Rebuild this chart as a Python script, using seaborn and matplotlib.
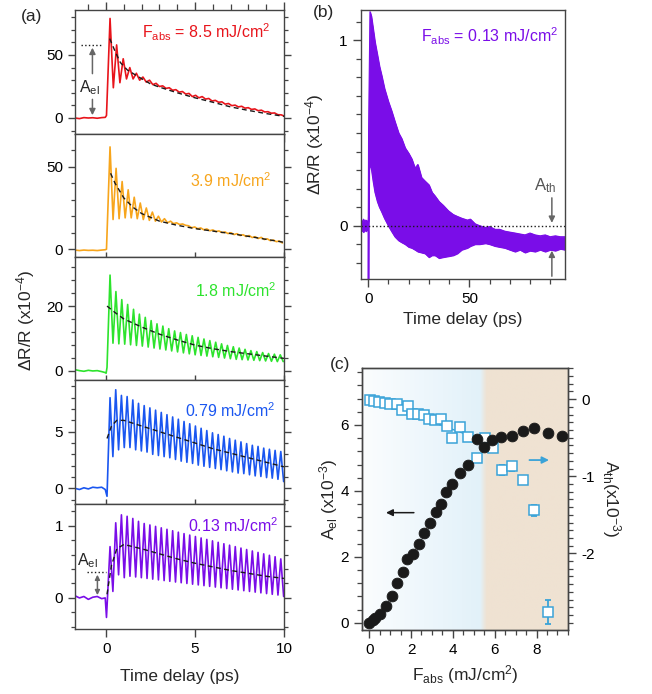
import numpy as np
import pandas as pd
import matplotlib
matplotlib.use('Agg')
import matplotlib.pyplot as plt
import seaborn as sns
from matplotlib.ticker import MultipleLocator
from matplotlib.colors import LinearSegmentedColormap

# 一、数据
# (a) ΔR/R (x10^-4)：零点前基线 + 上升沿 + 振荡的峰/谷值
t_pre = [-1.75, -1.5, -1.25, -1.0, -0.75, -0.5, -0.25, -0.05]

pre_85 = [0, -0.5, 0.3, 0, 0.2, -0.2, 0.3, 0.5]
edge_t_85, edge_v_85 = [0.02], [2]
peak_85 = [79, 58, 47, 40, 35.5, 32.5, 30, 27.5, 25.5, 24, 22.5, 21, 19.5, 18, 17,
           15.5, 14, 12.8, 11.5, 10.2, 9.3, 8.2, 7.2, 6.2, 5, 4, 2.5]
trough_85 = [24, 28, 31, 31, 30, 28.5, 26.5, 25, 23.5, 22, 20.5, 19, 17, 16, 15,
             13.5, 12.5, 11, 9.8, 8.8, 7.8, 6.8, 5.8, 4.8, 3.8, 2.6, 1.5]
fit_t_85 = [0.2, 0.5, 0.8, 1.2, 1.9, 2.5, 3, 4, 5, 6, 7, 8, 9, 10]
fit_v_85 = [63, 53, 44, 38, 32, 27, 24.5, 20, 16, 12.5, 8.8, 6, 3.5, 1.3]

pre_39 = [-0.5, -0.8, -0.5, -0.7, -0.6, -0.8, -0.5, -0.3]
edge_t_39, edge_v_39 = [0.02], [0]
peak_39 = [62, 49, 41, 36, 31.5, 28, 25, 22.5, 20, 18.5, 17, 16, 15.3, 14.2, 13.5,
           12.9, 12.3, 11.7, 11.1, 10.5, 10, 9.4, 8.8, 8.3, 7.6, 7.2, 6.3, 5.6, 5]
trough_39 = [18, 18.5, 19, 19, 18.5, 18, 17.5, 17, 16.5, 16, 15.5, 15, 14.5, 13, 12.4,
             11.8, 11.2, 10.7, 10.1, 9.5, 8.9, 8.3, 7.7, 7.1, 6.5, 5.9, 5.2, 4.6, 3.8]
fit_t_39 = [0.25, 0.5, 1, 1.5, 2, 3, 4, 5, 6, 7, 8, 9, 10]
fit_v_39 = [46, 40, 31, 25.5, 21.6, 17, 14.5, 12.5, 11, 9.5, 7.8, 6, 4.2]

pre_18 = [0.3, 0, -0.2, 0.1, -0.1, 0, -0.3, -0.6]
edge_t_18, edge_v_18 = [0.0, 0.05], [-0.8, 1]
peak_18 = [29.6, 24.5, 22, 20.5, 19, 17.5, 16.5, 15.5, 14.5, 13.8, 13, 12.3, 11.8, 11.2, 10.8,
           10.3, 9.8, 9.3, 8.8, 8.3, 7.8, 7.4, 7, 6.6, 6.2, 5.9, 5.6, 5.3, 5.1, 4.9]
trough_18 = [8.5, 8.3, 8.2, 8, 7.8, 7.6, 7.3, 7, 6.7, 6.4, 6.1, 5.8, 5.5, 5.2, 4.9,
             4.7, 4.5, 4.3, 4.1, 3.9, 3.7, 3.5, 3.4, 3.3, 3.2, 3.1, 3, 2.9, 2.8, 2.8]
fit_t_18 = [0.05, 0.5, 1, 2, 3, 4, 5, 6, 7, 8, 9, 10]
fit_v_18 = [20, 18, 16, 13.5, 11.3, 9.5, 7.9, 6.8, 5.9, 5.2, 4.5, 3.8]

pre_079 = [0, -0.1, 0.05, -0.05, 0.1, 0.05, 0.1, -0.1]
edge_t_079, edge_v_079 = [0.05], [-0.7]
peak_079 = [8.0, 8.7, 8.2, 8.1, 7.8, 7.5, 7.3, 7.1, 6.9, 6.7, 6.5, 6.3, 6.1, 5.9, 5.7, 5.5,
            5.3, 5.1, 4.9, 4.75, 4.6, 4.4, 4.25, 4.1, 3.95, 3.8, 3.7, 3.55, 3.45, 3.35, 3.25]
trough_079 = [2.8, 3.4, 3.6, 3.6, 3.4, 3.3, 3.2, 3.0, 2.9, 2.8, 2.7, 2.55, 2.4, 2.3, 2.2, 2.05,
              1.95, 1.85, 1.75, 1.65, 1.55, 1.45, 1.35, 1.3, 1.2, 1.1, 1.05, 0.95, 0.9, 0.8, 0.6]
fit_t_079 = [0.05, 0.3, 0.6, 1, 2, 3, 4, 5, 6, 7, 8, 9, 10]
fit_v_079 = [4.4, 5.5, 6.0, 6.0, 5.5, 5.0, 4.5, 4.0, 3.5, 3.1, 2.7, 2.3, 1.9]

pre_013 = [0.03, 0, 0.02, -0.02, 0.01, 0.02, -0.01, 0.0]
edge_t_013, edge_v_013 = [0.02], [-0.27]
peak_013 = [0.71, 1.04, 1.15, 1.13, 1.10, 1.06, 1.03, 1.01, 0.99, 0.97, 0.95, 0.93, 0.91, 0.89, 0.87, 0.85,
            0.83, 0.81, 0.79, 0.77, 0.75, 0.73, 0.71, 0.69, 0.67, 0.65, 0.63, 0.61, 0.59, 0.57, 0.54]
trough_013 = [0.09, 0.32, 0.28, 0.30, 0.29, 0.28, 0.27, 0.26, 0.25, 0.24, 0.23, 0.22, 0.21, 0.20, 0.19, 0.18,
              0.17, 0.16, 0.15, 0.14, 0.13, 0.12, 0.11, 0.10, 0.09, 0.08, 0.07, 0.06, 0.05, 0.04, 0.02]
fit_t_013 = [0.05, 0.3, 0.6, 1, 2, 3, 4, 5, 6, 7, 8, 9, 10]
fit_v_013 = [0.05, 0.45, 0.68, 0.74, 0.68, 0.61, 0.54, 0.48, 0.43, 0.38, 0.34, 0.30, 0.27]

# 振荡第一个峰的时间和半周期 (ps)
osc_t0 = [0.22, 0.22, 0.22, 0.22, 0.22]
osc_half = [0.185, 0.17, 0.165, 0.16, 0.16]

labels_a = ['F$_{abs}$ = 8.5 mJ/cm$^2$', '3.9 mJ/cm$^2$', '1.8 mJ/cm$^2$',
            '0.79 mJ/cm$^2$', '0.13 mJ/cm$^2$']

# (b) 0.13 mJ/cm2 长时间尺度：振荡带的上下包络
b_t = [-3.6, -3.0, -2.4, -1.8, -1.2, -0.6, -0.1, 0.0, 0.15, 0.4, 0.84, 1.5, 2.4, 3.3, 4.5,
       5.5, 6.6, 8.0, 9.9, 11.5, 13.2, 15, 16.5, 18.2, 20, 21.5, 23.1, 24.5, 26.3, 28.1,
       30, 31.5, 33, 35, 37, 39.6, 42, 44, 46.2, 49, 50.5, 52.8, 55, 58, 60,
       62.7, 65, 67.5, 70, 72.6, 75, 77.5, 80, 82.5, 85, 87.5, 90, 92.5, 95, 97.3]
b_hi = [0.03, 0.02, 0.035, 0.02, 0.03, 0.025, 0.02, 0.05, 0.5, 0.75, 1.155, 1.13, 1.06, 0.99, 0.92,
        0.86, 0.81, 0.74, 0.67, 0.62, 0.56, 0.5, 0.47, 0.42, 0.39, 0.36, 0.31, 0.33, 0.26, 0.24,
        0.22, 0.18, 0.16, 0.13, 0.11, 0.08, 0.06, 0.05, 0.04, 0.03, 0.035, 0.01, 0.0, -0.01, -0.005,
        -0.02, -0.02, -0.03, -0.035, -0.04, -0.045, -0.05, -0.04, -0.05, -0.055, -0.05, -0.06, -0.055, -0.06, -0.06]
b_lo = [-0.03, -0.025, -0.035, -0.02, -0.03, -0.02, -0.03, -0.29, -0.05, 0.3, 0.33, 0.31, 0.24, 0.18, 0.13,
        0.1, 0.075, 0.04, 0.0, -0.03, -0.06, -0.08, -0.09, -0.10, -0.115, -0.12, -0.13, -0.14, -0.145, -0.15,
        -0.17, -0.16, -0.16, -0.175, -0.17, -0.165, -0.16, -0.15, -0.13, -0.12, -0.11, -0.10, -0.10, -0.095, -0.1,
        -0.11, -0.115, -0.12, -0.13, -0.14, -0.13, -0.145, -0.135, -0.14, -0.13, -0.14, -0.13, -0.135, -0.125, -0.13]

# (c) A_el 与 A_th 随通量变化
F_el = [0, 0.19, 0.3, 0.51, 0.78, 1.07, 1.31, 1.6, 1.82, 2.1, 2.38, 2.63, 2.9, 3.18, 3.43, 3.65,
        3.94, 4.34, 4.74, 5.14, 5.5, 5.89, 6.3, 6.84, 7.37, 7.9, 8.53, 9.2]
A_el = [0, 0.08, 0.13, 0.28, 0.51, 0.81, 1.2, 1.53, 1.92, 2.08, 2.39, 2.73, 3.03, 3.37, 3.6, 3.98,
        4.21, 4.53, 4.79, 5.58, 5.34, 5.54, 5.65, 5.67, 5.82, 5.9, 5.77, 5.68]
F_th = [0.03, 0.22, 0.46, 0.75, 0.99, 1.31, 1.58, 1.84, 2.06, 2.35, 2.63, 2.86, 3.14, 3.43, 3.7,
        3.94, 4.34, 4.74, 5.14, 5.54, 5.93, 6.33, 6.84, 7.37, 7.9, 8.54]
A_th = [-0.01, -0.02, -0.035, -0.05, -0.065, -0.065, -0.14, -0.09, -0.19, -0.195, -0.21, -0.26, -0.27,
        -0.26, -0.35, -0.51, -0.36, -0.49, -0.76, -0.5, -0.63, -0.92, -0.87, -1.05, -1.44, -2.76]
A_th_err = [0.07, 0.06, 0.05, 0.07, 0.16]   # 最后五个点的误差
fit_F_th = [0, 6.0]
fit_A_th = [0, -0.59]

# 二、画图设置
sns.set_theme(style='ticks', rc={'axes.linewidth': 1.0, 'xtick.major.width': 1.0,
                                 'ytick.major.width': 1.0, 'xtick.minor.width': 0.9,
                                 'ytick.minor.width': 0.9})
plt.rcParams['font.family'] = ['Liberation Sans', 'DejaVu Sans']
plt.rcParams['mathtext.fontset'] = 'custom'
plt.rcParams['mathtext.rm'] = 'Liberation Sans'
plt.rcParams['mathtext.default'] = 'regular'
plt.rcParams['axes.unicode_minus'] = False
plt.rcParams['font.size'] = 11.5
plt.rcParams['xtick.labelsize'] = 11
plt.rcParams['ytick.labelsize'] = 11

lab_fs = 12.5
spine_c = '#444444'
arrow_c = '#666666'
colors_a = ['#e8141b', '#f7a51c', '#2de32d', '#1a56f0', '#7a0de8']
sq_c = '#3aa3d8'

W, H = 652, 694
fig = plt.figure(figsize=(W / 100, H / 100), dpi=100)


def add_ax(l, t, r, b):
    return fig.add_axes([l / W, 1 - b / H, (r - l) / W, (b - t) / H])


def style_spines(ax):
    for s in ax.spines.values():
        s.set_color(spine_c)
        s.set_linewidth(1.0)
    ax.tick_params(colors=spine_c, labelcolor='black', which='both')


def build_trace(pre, edge_t, edge_v, peaks, troughs, t0, half):
    n = len(peaks) + len(troughs)
    t_osc = t0 + half * np.arange(n)
    v_osc = np.empty(n)
    v_osc[0::2] = peaks
    v_osc[1::2] = troughs
    t = np.concatenate([t_pre, edge_t, t_osc])
    v = np.concatenate([pre, edge_v, v_osc])
    return pd.DataFrame({'t': t, 'v': v})


# 三、(a) 五个通量的曲线
rows_a = [(10, 134), (134, 257), (257, 380), (380, 504), (504, 629)]
traces = [build_trace(pre_85, edge_t_85, edge_v_85, peak_85, trough_85, osc_t0[0], osc_half[0]),
          build_trace(pre_39, edge_t_39, edge_v_39, peak_39, trough_39, osc_t0[1], osc_half[1]),
          build_trace(pre_18, edge_t_18, edge_v_18, peak_18, trough_18, osc_t0[2], osc_half[2]),
          build_trace(pre_079, edge_t_079, edge_v_079, peak_079, trough_079, osc_t0[3], osc_half[3]),
          build_trace(pre_013, edge_t_013, edge_v_013, peak_013, trough_013, osc_t0[4], osc_half[4])]
fits = [(fit_t_85, fit_v_85), (fit_t_39, fit_v_39), (fit_t_18, fit_v_18),
        (fit_t_079, fit_v_079), (fit_t_013, fit_v_013)]
ylims = [(-12.7, 85.7), (-4.7, 69.8), (-2.9, 35.2), (-1.38, 9.56), (-0.43, 1.30)]
ymajor = [50, 50, 20, 5, 1]
yminor = [10, 10, 4, 1, 0.2]
lab_pos = [(0.933, 0.774), (0.941, 0.569), (0.965, 0.672), (0.96, 0.704), (0.973, 0.778)]

axes_a = []
for i, (top, bot) in enumerate(rows_a):
    ax = add_ax(75, top, 284, bot)
    axes_a.append(ax)
    sns.lineplot(data=traces[i], x='t', y='v', ax=ax, color=colors_a[i], lw=1.2,
                 sort=False, estimator=None)
    sns.lineplot(x=fits[i][0], y=fits[i][1], ax=ax, color='k', lw=1.0,
                 linestyle=(0, (3.5, 2.5)), sort=False, estimator=None)
    ax.set_xlim(-1.75, 10)
    ax.set_ylim(*ylims[i])
    ax.set_xlabel('')
    ax.set_ylabel('')
    ax.yaxis.set_major_locator(MultipleLocator(ymajor[i]))
    ax.yaxis.set_minor_locator(MultipleLocator(yminor[i]))
    ax.xaxis.set_major_locator(MultipleLocator(5))
    style_spines(ax)
    ax.tick_params(axis='y', which='both', direction='out', left=True, right=True, labelright=False)
    ax.tick_params(axis='y', which='major', length=5)
    ax.tick_params(axis='y', which='minor', length=3)
    ax.text(lab_pos[i][0], lab_pos[i][1], labels_a[i], transform=ax.transAxes, ha='right',
            va='baseline', color=colors_a[i], fontsize=11.5)
    if i < 4:
        ax.tick_params(axis='x', which='major', bottom=True, top=False, direction='inout',
                       length=7, labelbottom=False)
    else:
        ax.xaxis.set_minor_locator(MultipleLocator(1))
        ax.tick_params(axis='x', which='both', bottom=True, top=False, direction='out')
        ax.tick_params(axis='x', which='major', length=6)
        ax.tick_params(axis='x', which='minor', length=3)
        ax.set_xlabel('Time delay (ps)', fontsize=lab_fs)
        ax.xaxis.set_label_coords(0.5, -0.32)
    if i == 0:
        ax.xaxis.set_minor_locator(MultipleLocator(1))
        ax.tick_params(axis='x', which='both', top=True, direction='out')
        ax.tick_params(axis='x', which='minor', bottom=False, length=4)
        ax.tick_params(axis='x', which='major', length=6)
    else:
        ax.tick_params(axis='x', which='minor', bottom=False, top=False)

# A_el 标注
ax1 = axes_a[0]
ax1.plot([-1.4, -0.2], [58, 58], color='k', ls=':', lw=1)
ax1.annotate('', xy=(-0.77, 58), xytext=(-0.77, 33),
             arrowprops=dict(arrowstyle='-|>', color=arrow_c, lw=1.1, mutation_scale=9))
ax1.annotate('', xy=(-0.77, 0), xytext=(-0.77, 17),
             arrowprops=dict(arrowstyle='-|>', color=arrow_c, lw=1.1, mutation_scale=9))
ax1.text(-0.96, 24, 'A$_{el}$', ha='center', va='center', fontsize=11.5)

ax5 = axes_a[4]
ax5.plot([-1.07, -0.02], [0.36, 0.36], color='k', ls=':', lw=1)
ax5.annotate('', xy=(-0.49, 0.36), xytext=(-0.49, 0.0),
             arrowprops=dict(arrowstyle='<|-|>', color=arrow_c, lw=1.1, mutation_scale=7))
ax5.text(-1.07, 0.52, 'A$_{el}$', ha='center', va='center', fontsize=11.5)

fig.text(26 / W, 1 - 320 / H, 'ΔR/R (x10$^{-4}$)', rotation=90, ha='center', va='center',
         fontsize=lab_fs)

# 四、(b) 长时间尺度
ax_b = add_ax(361, 10, 565, 279)
ax_b.fill_between(b_t, b_lo, b_hi, color=colors_a[4], lw=0.8)
sns.lineplot(x=b_t, y=b_hi, ax=ax_b, color=colors_a[4], lw=0.8, sort=False, estimator=None)
sns.lineplot(x=b_t, y=b_lo, ax=ax_b, color=colors_a[4], lw=0.8, sort=False, estimator=None)
ax_b.axhline(0, color='k', ls=':', lw=1)
ax_b.set_xlim(-3.6, 97.3)
ax_b.set_ylim(-0.288, 1.164)
ax_b.xaxis.set_major_locator(MultipleLocator(50))
ax_b.xaxis.set_minor_locator(MultipleLocator(10))
ax_b.yaxis.set_major_locator(MultipleLocator(1))
ax_b.yaxis.set_minor_locator(MultipleLocator(0.1))
style_spines(ax_b)
ax_b.tick_params(which='both', direction='out', top=False, right=False)
ax_b.tick_params(which='major', length=6)
ax_b.tick_params(which='minor', length=3.5)
ax_b.set_xlabel('Time delay (ps)', fontsize=lab_fs)
ax_b.set_ylabel('ΔR/R (x10$^{-4}$)', fontsize=lab_fs)
ax_b.yaxis.set_label_coords(-0.17, 0.5)
ax_b.text(0.967, 0.88, 'F$_{abs}$ = 0.13 mJ/cm$^2$', transform=ax_b.transAxes, ha='right',
          va='baseline', color=colors_a[4], fontsize=11.5)
ax_b.annotate('', xy=(90.8, 0.0), xytext=(90.8, 0.165),
              arrowprops=dict(arrowstyle='-|>', color=arrow_c, lw=1.1, mutation_scale=9))
ax_b.annotate('', xy=(90.8, -0.12), xytext=(90.8, -0.288),
              arrowprops=dict(arrowstyle='-|>', color=arrow_c, lw=1.1, mutation_scale=9))
ax_b.text(87.5, 0.215, 'A$_{th}$', ha='center', va='center', color='#555555', fontsize=12)

# 五、(c) 通量依赖
ax_c = add_ax(362.3, 368.3, 568.3, 630)
ax_c2 = ax_c.twinx()
ax_c.set_zorder(ax_c2.get_zorder() + 1)
ax_c.patch.set_visible(False)

xl_c = (-0.33, 9.52)
yl_c2 = (-2.994, 0.40)
bg_cmap = LinearSegmentedColormap.from_list('bg', [(0, '#fbfdfe'), (0.3, '#eef7fc'),
                                                   (0.575, '#e2f1f9'), (0.605, '#efe2d2'),
                                                   (1, '#efe2d2')])
ax_c2.imshow(np.linspace(0, 1, 400)[None, :], cmap=bg_cmap, aspect='auto',
             extent=[xl_c[0], xl_c[1], yl_c2[0], yl_c2[1]], zorder=0, interpolation='bilinear')
ax_c2.plot(fit_F_th, fit_A_th, color=sq_c, lw=1.0, zorder=2)
ax_c2.errorbar(F_th[-5:], A_th[-5:], yerr=A_th_err, fmt='none', ecolor=sq_c, elinewidth=1.3,
               capsize=2.5, capthick=1.3, zorder=3)
ax_c2.plot(F_th, A_th, 's', ms=7, mfc='white', mec=sq_c, mew=1.1, zorder=4)
sns.scatterplot(x=F_el, y=A_el, ax=ax_c, color='k', s=60, edgecolor='k', zorder=5)

ax_c.set_xlim(*xl_c)
ax_c.set_ylim(-0.22, 7.72)
ax_c2.set_xlim(*xl_c)
ax_c2.set_ylim(*yl_c2)
ax_c.xaxis.set_major_locator(MultipleLocator(2))
ax_c.xaxis.set_minor_locator(MultipleLocator(0.5))
ax_c.yaxis.set_major_locator(MultipleLocator(2))
ax_c.yaxis.set_minor_locator(MultipleLocator(0.4))
ax_c2.yaxis.set_major_locator(MultipleLocator(1))
ax_c2.yaxis.set_minor_locator(MultipleLocator(0.1))
style_spines(ax_c)
style_spines(ax_c2)
ax_c.tick_params(which='both', direction='out', top=False, right=False)
ax_c.tick_params(which='major', length=6)
ax_c.tick_params(which='minor', length=3.5)
ax_c2.tick_params(which='both', direction='out')
ax_c2.tick_params(which='major', length=6)
ax_c2.tick_params(which='minor', length=3.5)

ax_c.annotate('', xy=(0.67, 3.34), xytext=(2.27, 3.34),
              arrowprops=dict(arrowstyle='-|>', color='k', lw=1.1, mutation_scale=10))
ax_c2.annotate('', xy=(8.73, -0.79), xytext=(7.53, -0.79),
               arrowprops=dict(arrowstyle='-|>', color=sq_c, lw=1.3, mutation_scale=10))

ax_c.set_xlabel('F$_{abs}$ (mJ/cm$^2$)', fontsize=lab_fs)
ax_c.set_ylabel('A$_{el}$ (x10$^{-3}$)', fontsize=lab_fs)
ax_c.yaxis.set_label_coords(-0.11, 0.5)
ax_c2.set_ylabel('A$_{th}$(x10$^{-3}$)', rotation=-90, fontsize=lab_fs, va='center')
ax_c2.yaxis.set_label_coords(1.21, 0.5)

# 面板标号
fig.text(32 / W, 1 - 16 / H, '(a)', ha='center', va='center', fontsize=12.5)
fig.text(323 / W, 1 - 13 / H, '(b)', ha='center', va='center', fontsize=12.5)
fig.text(340 / W, 1 - 365 / H, '(c)', ha='center', va='center', fontsize=12.5)

fig.savefig('out.png', dpi=100)
